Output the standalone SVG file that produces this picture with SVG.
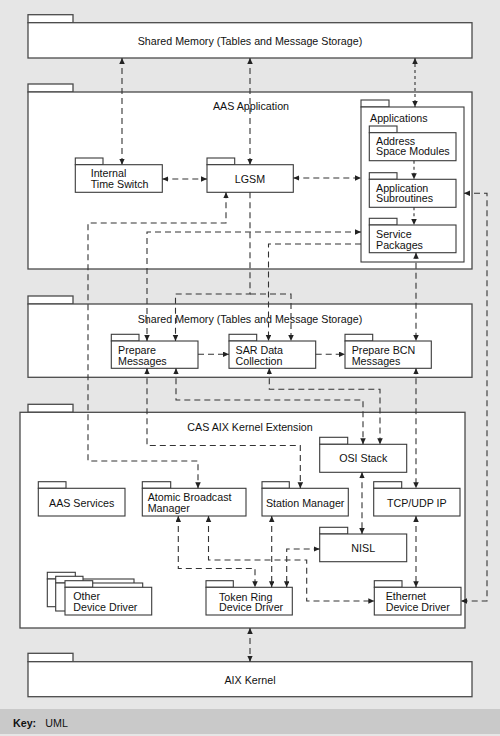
<svg xmlns="http://www.w3.org/2000/svg" width="500" height="736" viewBox="0 0 500 736">
<style>
.bg{fill:#e6e6e6}
.key{fill:#c9c9c9}
.tab,.box{fill:#fff;stroke:#3a3a3a;stroke-width:1.1}
.big{fill:#fff;stroke:#4a4a4a;stroke-width:1.3}
text{font-family:"Liberation Sans",Arial,sans-serif;font-size:10.7px;fill:#111}
.c{text-anchor:middle}
.b{font-weight:bold}
.con path{fill:none;stroke:#333;stroke-width:1.1;stroke-dasharray:6 4}
.con path.f{stroke-dasharray:3 3}
</style>
<defs>
<marker id="a" markerUnits="userSpaceOnUse" markerWidth="7" markerHeight="6" refX="6" refY="2.75" orient="auto-start-reverse">
<path d="M0,0 L6,2.75 L0,5.5 z" fill="#222"/>
</marker>
</defs>
<rect class="bg" x="0" y="0" width="500" height="709"/>
<rect class="key" x="0" y="709" width="500" height="25"/>
<rect class="bg" x="0" y="734" width="500" height="2"/>

<g id="sharedMemoryTop">
<rect class="big" x="28" y="14.7" width="45" height="8"/>
<rect class="big" x="28" y="22.7" width="444" height="35.3"/>
<text class="c" x="250" y="45">Shared Memory (Tables and Message Storage)</text>
</g>

<g id="aasApplication">
<rect class="big" x="28" y="84" width="45" height="8"/>
<rect class="big" x="28" y="92" width="444" height="177"/>
<text class="c" x="251" y="109.5">AAS Application</text>
</g>

<g id="applications">
<rect class="box" x="361" y="100" width="28" height="7"/>
<rect class="box" x="361" y="107" width="103" height="155"/>
<text x="370" y="121.5">Applications</text>
</g>
<g id="addressSpaceModules">
<rect class="box" x="369.3" y="126" width="27.7" height="6.7"/>
<rect class="box" x="369.3" y="132.7" width="86.7" height="28"/>
<text x="376" y="144.5">Address</text>
<text x="376" y="155">Space Modules</text>
</g>
<g id="applicationSubroutines">
<rect class="box" x="369.3" y="172.7" width="27.7" height="6.6"/>
<rect class="box" x="369.3" y="179.3" width="86.7" height="28"/>
<text x="376" y="191.5">Application</text>
<text x="376" y="202">Subroutines</text>
</g>
<g id="servicePackages">
<rect class="box" x="369.3" y="218.3" width="27.7" height="6.7"/>
<rect class="box" x="369.3" y="225" width="86.7" height="27.7"/>
<text x="376" y="237.8">Service</text>
<text x="376" y="248.5">Packages</text>
</g>

<g id="internalTimeSwitch">
<rect class="box" x="75.3" y="158" width="27.7" height="6.7"/>
<rect class="box" x="75.3" y="164.7" width="87" height="27.6"/>
<text x="90.7" y="177">Internal</text>
<text x="90.7" y="187.5">Time Switch</text>
</g>
<g id="lgsm">
<rect class="box" x="207" y="158" width="27.7" height="6.7"/>
<rect class="box" x="207" y="164.7" width="86.3" height="27.6"/>
<text class="c" x="250" y="183">LGSM</text>
</g>

<g id="sharedMemoryMid">
<rect class="big" x="28" y="296" width="45" height="8"/>
<rect class="big" x="28" y="304" width="444" height="73.3"/>
<text class="c" x="250" y="322.5">Shared Memory (Tables and Message Storage)</text>
</g>
<g id="prepareMessages">
<rect class="box" x="111.3" y="334.3" width="27.7" height="6.7"/>
<rect class="box" x="111.3" y="341" width="86.7" height="27.3"/>
<text x="118" y="353.8">Prepare</text>
<text x="118" y="364.5">Messages</text>
</g>
<g id="sarDataCollection">
<rect class="box" x="229" y="334.3" width="27.7" height="6.7"/>
<rect class="box" x="229" y="341" width="86.7" height="27.3"/>
<text x="235.5" y="353.8">SAR Data</text>
<text x="235.5" y="364.5">Collection</text>
</g>
<g id="prepareBcnMessages">
<rect class="box" x="345" y="334.3" width="27.7" height="6.7"/>
<rect class="box" x="345" y="341" width="86.3" height="27.3"/>
<text x="351.7" y="353.8">Prepare BCN</text>
<text x="351.7" y="364.5">Messages</text>
</g>

<g id="casAixKernelExtension">
<rect class="big" x="28" y="404.3" width="45" height="8"/>
<rect class="big" x="20" y="412.3" width="445" height="215.7"/>
<text class="c" x="250" y="430.5">CAS AIX Kernel Extension</text>
</g>
<g id="aasServices">
<rect class="box" x="38.3" y="481.7" width="27.7" height="6.6"/>
<rect class="box" x="38.3" y="488.3" width="86.7" height="27.7"/>
<text class="c" x="81.7" y="506.8">AAS Services</text>
</g>
<g id="atomicBroadcastManager">
<rect class="box" x="142.3" y="481.7" width="28.4" height="6.6"/>
<rect class="box" x="142.3" y="488.3" width="103.7" height="27.7"/>
<text x="147.7" y="501">Atomic Broadcast</text>
<text x="147.7" y="511.8">Manager</text>
</g>
<g id="stationManager">
<rect class="box" x="262" y="481.7" width="27.3" height="6.6"/>
<rect class="box" x="262" y="488.3" width="86.3" height="27.7"/>
<text class="c" x="305.2" y="506.8">Station Manager</text>
</g>
<g id="osiStack">
<rect class="box" x="319.7" y="437.3" width="28" height="7"/>
<rect class="box" x="319.7" y="444.3" width="87" height="28"/>
<text class="c" x="363.2" y="462">OSI Stack</text>
</g>
<g id="tcpUdpIp">
<rect class="box" x="373.7" y="481.7" width="28" height="6.6"/>
<rect class="box" x="373.7" y="488.3" width="86.3" height="27.7"/>
<text class="c" x="416.8" y="506.8">TCP/UDP IP</text>
</g>
<g id="nisl">
<rect class="box" x="319.7" y="527.3" width="28" height="6.7"/>
<rect class="box" x="319.7" y="534" width="87" height="27.7"/>
<text class="c" x="363.2" y="552">NISL</text>
</g>
<g id="otherDeviceDriver">
<rect class="box" x="47.3" y="572.3" width="28" height="6.7"/>
<rect class="box" x="47.3" y="579" width="86.7" height="27.7"/>
<rect class="box" x="55.7" y="576.3" width="27.3" height="6.7"/>
<rect class="box" x="55.7" y="583" width="87" height="28"/>
<rect class="box" x="65" y="580.7" width="27.7" height="6.6"/>
<rect class="box" x="65" y="587.3" width="86.7" height="27.7"/>
<text x="73.3" y="600">Other</text>
<text x="73.3" y="611">Device Driver</text>
</g>
<g id="tokenRingDeviceDriver">
<rect class="box" x="206" y="580.7" width="27.3" height="6.6"/>
<rect class="box" x="206" y="587.3" width="86.3" height="27.7"/>
<text x="219" y="600.5">Token Ring</text>
<text x="219" y="611">Device Driver</text>
</g>
<g id="ethernetDeviceDriver">
<rect class="box" x="374.3" y="580.7" width="27.7" height="6.6"/>
<rect class="box" x="374.3" y="587.3" width="86.7" height="27.7"/>
<text x="385.7" y="600">Ethernet</text>
<text x="385.7" y="611">Device Driver</text>
</g>

<g id="aixKernel">
<rect class="big" x="28" y="653.3" width="45" height="8.4"/>
<rect class="big" x="28" y="661.7" width="444" height="35"/>
<text class="c" x="250" y="683.8">AIX Kernel</text>
</g>

<g id="connectors" class="con">
<path d="M122,58 V164.7" marker-start="url(#a)" marker-end="url(#a)"/>
<path d="M250,58 V164.7" marker-start="url(#a)" marker-end="url(#a)"/>
<path class="f" d="M415,58 V107" marker-start="url(#a)" marker-end="url(#a)"/>
<path d="M162.3,179 H207" marker-start="url(#a)" marker-end="url(#a)"/>
<path d="M293.3,178 H361" marker-start="url(#a)" marker-end="url(#a)"/>
<path class="f" d="M414,160.7 V179.3" marker-end="url(#a)"/>
<path class="f" d="M414,207.3 V225" marker-end="url(#a)"/>
<path d="M226,192.3 V223 H88 V461 H198 V488.3" marker-start="url(#a)" marker-end="url(#a)"/>
<path d="M361,232 H147 V341" marker-start="url(#a)" marker-end="url(#a)"/>
<path d="M361,244 H268.5 V341" marker-end="url(#a)"/>
<path d="M250,192.3 V294 H175.5 V341" marker-end="url(#a)"/>
<path d="M250,294 H291 V341" marker-end="url(#a)"/>
<path d="M416,252.7 V341" marker-start="url(#a)" marker-end="url(#a)"/>
<path d="M464,193.3 H487 V601 H461" marker-start="url(#a)" marker-end="url(#a)"/>
<path d="M198,354.3 H229" marker-end="url(#a)"/>
<path d="M315.7,354.3 H345" marker-end="url(#a)"/>
<path d="M147,368.3 V445.5 H300.3 V488.3" marker-start="url(#a)" marker-end="url(#a)"/>
<path d="M176,368.3 V400 H363 V444.3" marker-start="url(#a)" marker-end="url(#a)"/>
<path d="M269.3,368.3 V389.3 H380 V444.3" marker-start="url(#a)" marker-end="url(#a)"/>
<path d="M416,368.3 V488.3" marker-start="url(#a)" marker-end="url(#a)"/>
<path d="M362,472.3 V534" marker-start="url(#a)" marker-end="url(#a)"/>
<path d="M416,516 V587.3" marker-start="url(#a)" marker-end="url(#a)"/>
<path d="M178.3,516 V568.5 H255 V587.3" marker-start="url(#a)" marker-end="url(#a)"/>
<path d="M208.5,516 V560 H306.7 V601 H374.3" marker-start="url(#a)" marker-end="url(#a)"/>
<path d="M271.7,516 V587.3" marker-start="url(#a)" marker-end="url(#a)"/>
<path d="M319.7,549 H286.7 V587.3" marker-start="url(#a)" marker-end="url(#a)"/>
<path d="M250,628 V661.7" marker-start="url(#a)" marker-end="url(#a)"/>
</g>

<g id="key">
<text class="b" x="13" y="727">Key:</text>
<text x="45.3" y="727">UML</text>
</g>
</svg>
